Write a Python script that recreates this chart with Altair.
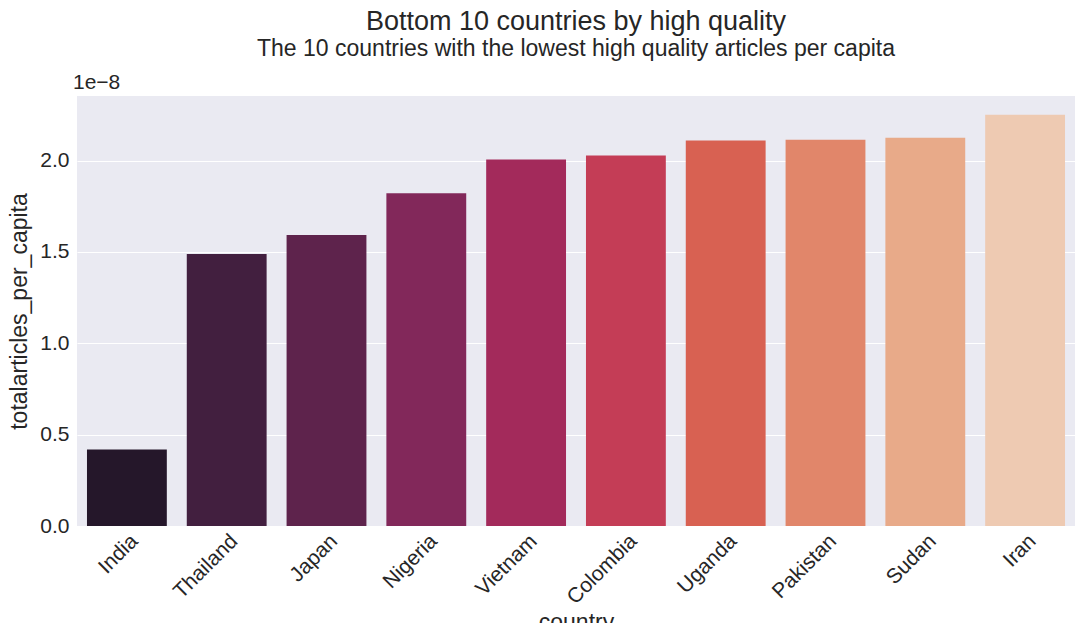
import altair as alt
import pandas as pd

countries = ['India', 'Thailand', 'Japan', 'Nigeria', 'Vietnam', 'Colombia', 'Uganda', 'Pakistan', 'Sudan', 'Iran']
# values in units of 1e-8
per_capita = [0.418, 1.489, 1.592, 1.821, 2.005, 2.027, 2.109, 2.114, 2.125, 2.25]
colors = ['#25172a', '#421f3f', '#5e234c', '#82285a', '#a32a5b', '#c43d56', '#d86152', '#e1866a', '#e8aa89', '#eecab2']

df = pd.DataFrame({'country': countries, 'totalarticles_per_capita': per_capita})

font = 'Liberation Sans'

bars = alt.Chart(df).mark_bar().encode(
    x=alt.X('country:N', sort=countries,
            scale=alt.Scale(paddingInner=0.2, paddingOuter=0.1),
            axis=alt.Axis(labelAngle=-45, labelFontSize=21, titleFontSize=23, ticks=False,
                          domain=False, grid=False, labelPadding=4, titlePadding=4,
                          labelColor='#262626', titleColor='#262626', titleFontWeight='normal')),
    y=alt.Y('totalarticles_per_capita:Q', scale=alt.Scale(domain=[0, 2.353], nice=False),
            axis=alt.Axis(values=[0, 0.5, 1.0, 1.5, 2.0], format='.1f', labelFontSize=21,
                          titleFontSize=23, ticks=False, domain=False, gridColor='white',
                          gridWidth=1.2, labelPadding=8, titlePadding=8,
                          labelColor='#262626', titleColor='#262626', titleFontWeight='normal')),
    color=alt.Color('country:N', sort=countries, scale=alt.Scale(domain=countries, range=colors), legend=None)
)

exp = alt.Chart(pd.DataFrame({'t': ['1e\u22128']})).mark_text(
    align='left', baseline='bottom', fontSize=21, font=font, color='#262626'
).encode(x=alt.value(-4), y=alt.value(-3), text='t:N')

chart = alt.layer(bars, exp).properties(
    width=998, height=430,
    title=alt.TitleParams('Bottom 10 countries by high quality',
                          subtitle='The 10 countries with the lowest high quality articles per capita',
                          fontSize=27, subtitleFontSize=23, fontWeight='normal',
                          color='#262626', subtitleColor='#262626', anchor='middle',
                          subtitlePadding=2, offset=10),
    padding={'left': 0, 'top': 0, 'right': 0, 'bottom': 0}
).configure(font=font).configure_view(fill='#eaeaf2', stroke=None)

chart.save("out.html", embed_options={"renderer": "svg", "actions": False})
